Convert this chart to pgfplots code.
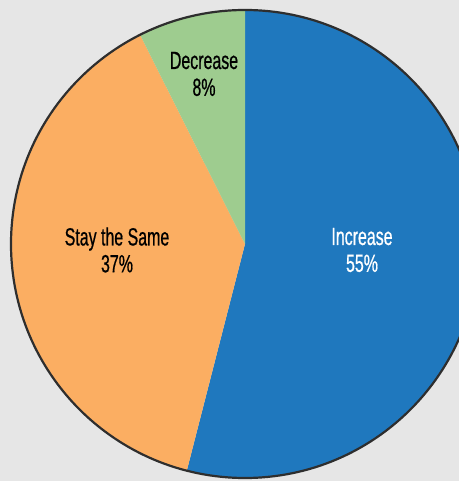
\documentclass[border=0pt]{standalone}
\usepackage{pgfplots}
\pgfplotsset{compat=1.18}
\usepackage{fontspec}
\setmainfont[FakeStretch=0.64, FakeBold=0.6]{Liberation Sans}
\definecolor{bg}{HTML}{E6E6E6}
\definecolor{cInc}{HTML}{1F78BE}
\definecolor{cSame}{HTML}{FBAE62}
\definecolor{cDec}{HTML}{9ECC8F}
\definecolor{edge}{HTML}{2E2E2E}
% slice shares as drawn (percent), labels as printed
\def\vInc{54.0}
\def\vSame{38.6}
\def\vDec{7.4}
\def\R{234}
\begin{document}
\begin{tikzpicture}
\begin{axis}[scale only axis, width=459bp, height=481bp,
  xmin=-245, xmax=214, ymin=-237, ymax=244, hide axis, clip=true]
\fill[bg] (axis cs:-245,-237) rectangle (axis cs:214,244);
\fill[cInc] (axis cs:0,0) -- (axis cs:0,\R) arc[start angle=90, end angle={90-3.6*\vInc}, radius=\R bp] -- cycle;
\fill[cSame] (axis cs:0,0) -- (axis cs:{\R*cos(90-3.6*\vInc)},{\R*sin(90-3.6*\vInc)}) arc[start angle={90-3.6*\vInc}, end angle={90-3.6*(\vInc+\vSame)}, radius=\R bp] -- cycle;
\fill[cDec] (axis cs:0,0) -- (axis cs:{\R*cos(90-3.6*(\vInc+\vSame))},{\R*sin(90-3.6*(\vInc+\vSame))}) arc[start angle={90-3.6*(\vInc+\vSame)}, end angle={90-3.6*(\vInc+\vSame+\vDec)}, radius=\R bp] -- cycle;
\draw[edge, line width=2.2bp] (axis cs:0,0) circle[radius=\R bp];
\node[align=center, font=\fontsize{25}{27}\selectfont, text=black] at (axis cs:-41,170) {Decrease\\8\%};
\node[align=center, font=\fontsize{25}{27}\selectfont, text=black] at (axis cs:-128,-6) {Stay the Same\\37\%};
\node[align=center, font=\fontsize{25}{27}\selectfont, text=white] at (axis cs:117,-6) {Increase\\55\%};
\end{axis}
\end{tikzpicture}
\end{document}
